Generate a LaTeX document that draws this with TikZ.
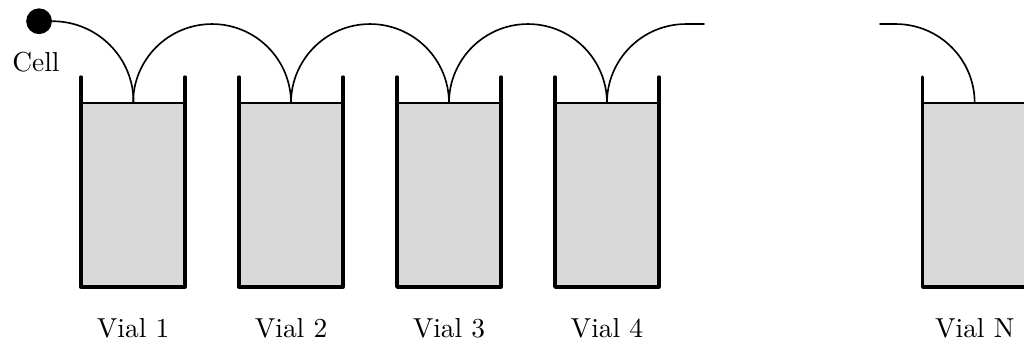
\documentclass[tikz,border=0pt]{standalone}
\usetikzlibrary{calc}
\begin{document}
\begin{tikzpicture}[line cap=round,line join=round,
  liquid/.style={fill=gray!30},
  wall/.style={line width=1.2pt},
  tube/.style={line width=0.6pt},
  surface/.style={line width=0.5pt}]
  \useasboundingbox (0,0) rectangle (13.107,4.442);
  % 细胞
  \node[circle,fill,inner sep=0pt,minimum size=0.33cm] (cell) at (0.5,4.17) {};
  \node (celllabel) at (0.46,3.65) {Cell};
  % 第一个瓶
  \coordinate (V1) at (1.703,3.123);
  \fill[liquid] (1.037,0.768) rectangle (2.368,3.123);
  \draw[surface] (1.037,3.123) -- (2.368,3.123);
  \draw[wall] (1.037,3.456) -- (1.037,0.768) -- (2.368,0.768) -- (2.368,3.456);
  \node (L1) at (1.703,0.243) {Vial 1};
  % 第二个瓶
  \coordinate (V2) at (3.725,3.123);
  \fill[liquid] (3.059,0.768) rectangle (4.390,3.123);
  \draw[surface] (3.059,3.123) -- (4.390,3.123);
  \draw[wall] (3.059,3.456) -- (3.059,0.768) -- (4.390,0.768) -- (4.390,3.456);
  \node (L2) at (3.725,0.243) {Vial 2};
  % 第三个瓶
  \coordinate (V3) at (5.747,3.123);
  \fill[liquid] (5.081,0.768) rectangle (6.412,3.123);
  \draw[surface] (5.081,3.123) -- (6.412,3.123);
  \draw[wall] (5.081,3.456) -- (5.081,0.768) -- (6.412,0.768) -- (6.412,3.456);
  \node (L3) at (5.747,0.243) {Vial 3};
  % 第四个瓶
  \coordinate (V4) at (7.769,3.123);
  \fill[liquid] (7.103,0.768) rectangle (8.434,3.123);
  \draw[surface] (7.103,3.123) -- (8.434,3.123);
  \draw[wall] (7.103,3.456) -- (7.103,0.768) -- (8.434,0.768) -- (8.434,3.456);
  \node (L4) at (7.769,0.243) {Vial 4};
  % 第N个瓶
  \coordinate (VN) at (12.476,3.123);
  \fill[liquid] (11.810,0.768) rectangle (13.141,3.123);
  \draw[surface] (11.810,3.123) -- (13.141,3.123);
  \draw[wall] (11.810,3.456) -- (11.810,0.768) -- (13.141,0.768) -- (13.141,3.456);
  \node (LN) at (12.476,0.243) {Vial N};
  % 转移路径
  \coordinate (E4) at (9.011,4.134);
  \coordinate (EN) at (11.264,4.134);
  \draw[tube] (cell.east) arc[start angle=90,end angle=0,radius=1.038];
  \draw[tube] (V1) arc[start angle=180,end angle=0,radius=1.011];
  \draw[tube] (V2) arc[start angle=180,end angle=0,radius=1.011];
  \draw[tube] (V3) arc[start angle=180,end angle=0,radius=1.011];
  \draw[tube] (V4) arc[start angle=180,end angle=90,radius=1.011] -- (E4);
  \draw[tube] (EN) -- ($(VN)+(-1.011,1.011)$) arc[start angle=90,end angle=0,radius=1.011];
\end{tikzpicture}
\end{document}
